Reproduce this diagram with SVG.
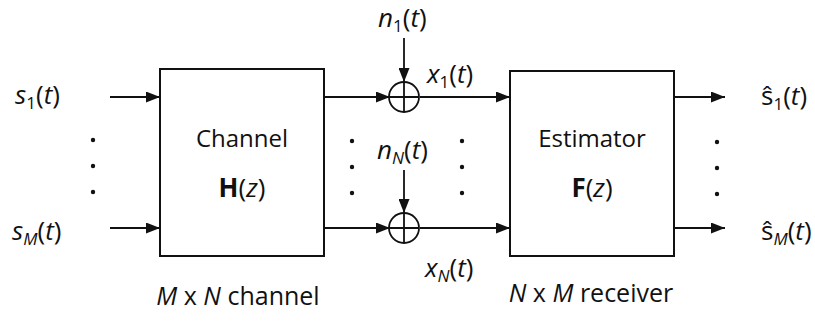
<svg xmlns="http://www.w3.org/2000/svg" width="815" height="323" viewBox="0 0 815 323">
<defs>
<style>
.box{fill:#fff;stroke:#111;stroke-width:2}
.ln{fill:none;stroke:#111;stroke-width:1.8}
.sum{fill:none;stroke:#111;stroke-width:1.8}
.dot{fill:#111}
text{font-family:"Open Sans","Liberation Sans",sans-serif;font-size:24px;fill:#111}
.m{font-size:26px}
.cap{font-size:25px}
.it{font-style:italic}
.sub{font-size:17px}
.b{font-weight:bold}
</style>
<marker id="ah" markerUnits="userSpaceOnUse" markerWidth="14" markerHeight="11" refX="14" refY="5.5" orient="auto">
<path d="M0,0 L14,5.5 L0,11 z" fill="#111"/>
</marker>
</defs>
<rect width="815" height="323" fill="#fff"/>

<g id="connectors">
<path class="ln" d="M110,97 H160" marker-end="url(#ah)"/>
<path class="ln" d="M110,228 H160" marker-end="url(#ah)"/>
<path class="ln" d="M324,97 H390" marker-end="url(#ah)"/>
<path class="ln" d="M324,228 H390" marker-end="url(#ah)"/>
<path class="ln" d="M420,97 H510" marker-end="url(#ah)"/>
<path class="ln" d="M420,228 H510" marker-end="url(#ah)"/>
<path class="ln" d="M404,38 V82" marker-end="url(#ah)"/>
<path class="ln" d="M404,170 V213" marker-end="url(#ah)"/>
<path class="ln" d="M674,97 H725" marker-end="url(#ah)"/>
<path class="ln" d="M674,228 H725" marker-end="url(#ah)"/>
</g>

<g id="channel">
<rect class="box" x="160" y="69" width="164" height="187"/>
<text x="242" y="147" text-anchor="middle">Channel</text>
<text class="m" x="242" y="197" text-anchor="middle"><tspan class="b">H</tspan>(<tspan class="it">z</tspan>)</text>
</g>

<g id="estimator">
<rect class="box" x="510" y="71" width="164" height="185"/>
<text x="592" y="147" text-anchor="middle">Estimator</text>
<text class="m" x="592" y="197" text-anchor="middle"><tspan class="b">F</tspan>(<tspan class="it">z</tspan>)</text>
</g>

<g id="sum1">
<circle class="sum" cx="404" cy="97" r="15"/>
<path class="sum" d="M389,97 H419 M404,82 V112"/>
</g>
<g id="sumN">
<circle class="sum" cx="404" cy="228" r="15"/>
<path class="sum" d="M389,228 H419 M404,213 V243"/>
</g>

<g id="labels">
<text class="m" x="15" y="104"><tspan class="it">s</tspan><tspan class="sub" dy="5">1</tspan><tspan dy="-5">(</tspan><tspan class="it">t</tspan>)</text>
<text class="m" x="12" y="240"><tspan class="it">s</tspan><tspan class="sub it" dy="5">M</tspan><tspan dy="-5">(</tspan><tspan class="it">t</tspan>)</text>
<text class="m" x="378" y="27"><tspan class="it">n</tspan><tspan class="sub" dy="5">1</tspan><tspan dy="-5">(</tspan><tspan class="it">t</tspan>)</text>
<text class="m" x="377" y="159"><tspan class="it">n</tspan><tspan class="sub it" dy="5">N</tspan><tspan dy="-5">(</tspan><tspan class="it">t</tspan>)</text>
<text class="m" x="427" y="83"><tspan class="it">x</tspan><tspan class="sub" dy="5">1</tspan><tspan dy="-5">(</tspan><tspan class="it">t</tspan>)</text>
<text class="m" x="425" y="277"><tspan class="it">x</tspan><tspan class="sub it" dy="5">N</tspan><tspan dy="-5">(</tspan><tspan class="it">t</tspan>)</text>
<text class="m" x="761" y="105"><tspan>ŝ</tspan><tspan class="sub" dy="5">1</tspan><tspan dy="-5">(</tspan><tspan class="it">t</tspan>)</text>
<text class="m" x="761" y="240"><tspan>ŝ</tspan><tspan class="sub it" dy="5">M</tspan><tspan dy="-5">(</tspan><tspan class="it">t</tspan>)</text>
<text class="cap" x="238" y="305" text-anchor="middle"><tspan class="it">M</tspan> x <tspan class="it">N</tspan> channel</text>
<text class="cap" x="591" y="302" text-anchor="middle"><tspan class="it">N</tspan> x <tspan class="it">M</tspan> receiver</text>
</g>

<g id="dots">
<circle class="dot" cx="93" cy="140" r="2.2"/>
<circle class="dot" cx="93" cy="166" r="2.2"/>
<circle class="dot" cx="93" cy="192" r="2.2"/>
<circle class="dot" cx="352" cy="141" r="2.2"/>
<circle class="dot" cx="352" cy="167" r="2.2"/>
<circle class="dot" cx="352" cy="193" r="2.2"/>
<circle class="dot" cx="462" cy="141" r="2.2"/>
<circle class="dot" cx="462" cy="167" r="2.2"/>
<circle class="dot" cx="462" cy="193" r="2.2"/>
<circle class="dot" cx="717" cy="142" r="2.2"/>
<circle class="dot" cx="717" cy="168" r="2.2"/>
<circle class="dot" cx="717" cy="194" r="2.2"/>
</g>
</svg>
